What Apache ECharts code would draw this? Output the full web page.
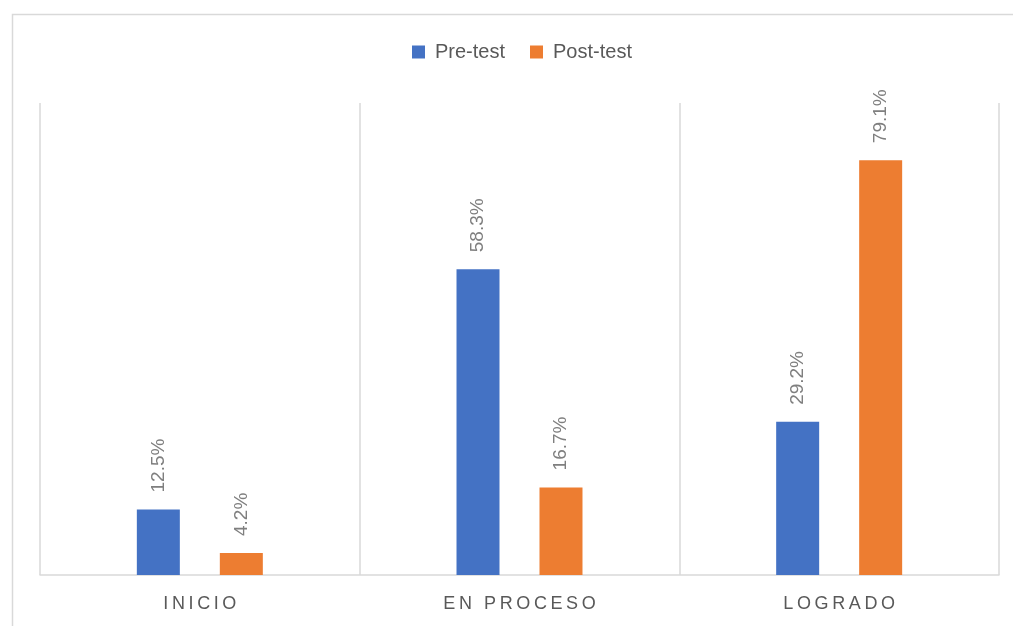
<!DOCTYPE html>
<html>
<head>
<meta charset="utf-8">
<script src="https://cdn.jsdelivr.net/npm/echarts@6/dist/echarts.min.js"></script>
<style>html,body{margin:0;padding:0;background:#fff}#c{width:1013px;height:626px}</style>
</head>
<body>
<div id="c"></div>
<script>
var categories = ['INICIO', 'EN PROCESO', 'LOGRADO'];
var seriesNames = ['Pre-test', 'Post-test'];
var preTest = [12.5, 58.3, 29.2];
var postTest = [4.2, 16.7, 79.1];

function spaced(s) {
  return s.split(' ').map(function (w) { return w.split('').join('\u2009'); }).join('\u2009 \u2009');
}

var chart = echarts.init(document.getElementById('c'));
var font = 'Liberation Sans';
var labelCfg = {
  show: true, position: 'top', rotate: 90, align: 'left', verticalAlign: 'middle',
  distance: 17, color: '#7f7f7f', fontSize: 19, fontFamily: font,
  formatter: function (p) { return p.value.toFixed(1) + '%'; }
};
chart.setOption({
  animation: false,
  color: ['#4472C4', '#ED7D31'],
  graphic: [{
    type: 'rect', left: 10, top: 12, shape: { width: 1100, height: 700 },
    style: { fill: 'none', stroke: '#d9d9d9', lineWidth: 1.5 }, silent: true
  }],
  legend: {
    data: seriesNames, top: 42, left: 412, padding: 0, itemWidth: 13, itemHeight: 13, itemGap: 25,
    icon: 'rect',
    textStyle: { color: '#595959', fontSize: 20, fontFamily: font, padding: [0, 0, 0, 5] }
  },
  grid: { left: 40, right: 14, top: 103, bottom: 51 },
  xAxis: {
    type: 'category', data: categories,
    axisLine: { lineStyle: { color: '#d9d9d9', width: 1.5 } },
    axisTick: { show: false },
    splitLine: { show: true, lineStyle: { color: '#d9d9d9', width: 1.5 } },
    axisLabel: { color: '#595959', fontSize: 18, fontFamily: font, margin: 20,
      formatter: function (v) { return spaced(v); } }
  },
  yAxis: { type: 'value', min: 0, max: 90, show: false, splitLine: { show: false } },
  series: [
    { name: seriesNames[0], type: 'bar', data: preTest, barWidth: 43, barGap: '93%', label: labelCfg },
    { name: seriesNames[1], type: 'bar', data: postTest, barWidth: 43, barGap: '93%', label: labelCfg }
  ]
});
</script>
</body>
</html>
